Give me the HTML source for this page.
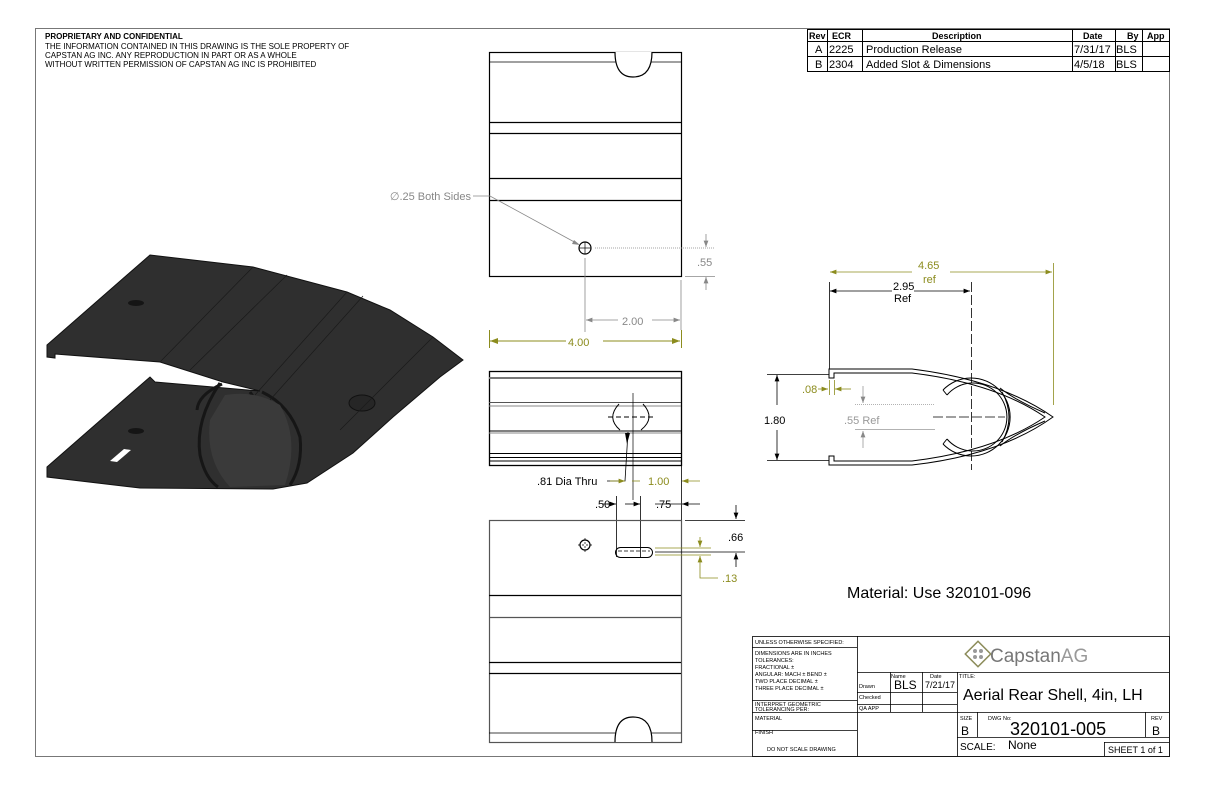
<!DOCTYPE html>
<html><head><meta charset="utf-8"><style>
html,body{margin:0;padding:0;background:#fff}
svg{display:block}
text{font-family:"Liberation Sans",Arial,sans-serif}
</style></head><body>
<svg width="1224" height="792" viewBox="0 0 1224 792" xmlns="http://www.w3.org/2000/svg">
<defs>
<marker id="ab" markerWidth="8" markerHeight="6" refX="8" refY="3" orient="auto"><path d="M0,0 L8,3 L0,6z" fill="#000"/></marker>
<marker id="ag" markerWidth="8" markerHeight="6" refX="8" refY="3" orient="auto"><path d="M0,0 L8,3 L0,6z" fill="#888"/></marker>
<marker id="ao" markerWidth="8" markerHeight="6" refX="8" refY="3" orient="auto"><path d="M0,0 L8,3 L0,6z" fill="#8c8c1e"/></marker>
</defs>
<!-- frame -->
<rect x="35.5" y="28.5" width="1134" height="728" fill="none" stroke="#777" stroke-width="1"/>
<text x="45" y="39" font-size="8" font-weight="bold">PROPRIETARY AND CONFIDENTIAL</text>
<text x="45" y="49" font-size="8">THE INFORMATION CONTAINED IN THIS DRAWING IS THE SOLE PROPERTY OF</text>
<text x="45" y="58" font-size="8">CAPSTAN AG INC. ANY REPRODUCTION IN PART OR AS A WHOLE</text>
<text x="45" y="67" font-size="8">WITHOUT WRITTEN PERMISSION OF CAPSTAN AG INC IS PROHIBITED</text>

<!-- rev table -->
<g stroke="#000" stroke-width="1" fill="none">
<rect x="807.5" y="29.5" width="362" height="42"/>
<line x1="807" y1="41.5" x2="1169" y2="41.5"/><line x1="807" y1="56.5" x2="1169" y2="56.5"/>
<line x1="827.5" y1="29" x2="827.5" y2="71"/><line x1="862.5" y1="29" x2="862.5" y2="71"/>
<line x1="1072.5" y1="29" x2="1072.5" y2="71"/><line x1="1115.5" y1="29" x2="1115.5" y2="71"/>
<line x1="1142.5" y1="29" x2="1142.5" y2="71"/>
</g>
<g font-size="9" font-weight="bold"><text x="809" y="39">Rev</text><text x="832" y="39">ECR</text><text x="932" y="39">Description</text><text x="1083" y="39">Date</text><text x="1127" y="39">By</text><text x="1147" y="39">App</text></g>
<g font-size="11"><text x="815" y="53">A</text><text x="829" y="53">2225</text><text x="866" y="53">Production Release</text><text x="1074" y="53">7/31/17</text><text x="1116" y="53">BLS</text>
<text x="815" y="68">B</text><text x="829" y="68">2304</text><text x="866" y="68">Added Slot &amp; Dimensions</text><text x="1074" y="68">4/5/18</text><text x="1116" y="68">BLS</text></g>

<!-- 3D view -->
<path d="M47,345 L150,255 L253,267 L347,292 L390,310 L433,337 L463,360 L440,377 L393,417 L353,453 L307,483 L273,489 L140,488 L47,477 L47,467 L150,377 L155,382 L260,391 L223,382 L160,362 L55,354 L55,358 L47,357 Z" fill="#2f2f2f" stroke="#111" stroke-width="1"/>
<g fill="none" stroke="#161616" stroke-width="3">
<path d="M222,384 Q198,395 197,410"/>
<path d="M220,383 Q195,420 200,455 Q205,478 218,487"/>
<path d="M262,392 Q290,405 300,437 Q303,465 290,485"/>
<path d="M250,392 Q270,420 265,470"/>
</g>
<path d="M225,395 Q255,390 280,405 Q300,440 285,485 L230,487 Q205,460 210,420 Z" fill="#3a3a3a"/>
<ellipse cx="362" cy="403" rx="13" ry="8" fill="#262626" stroke="#111"/>
<ellipse cx="136" cy="303" rx="8" ry="3" fill="#151515"/>
<ellipse cx="136" cy="431" rx="8" ry="3" fill="#151515"/>
<path d="M110,461 L124,449 L131,450 L117,462Z" fill="#fff"/>
<g stroke="#1a1a1a" stroke-width="0.7"><line x1="253" y1="267" x2="160" y2="362"/><line x1="287" y1="275" x2="190" y2="370"/><line x1="347" y1="292" x2="255" y2="395"/><line x1="363" y1="296" x2="270" y2="400"/><line x1="433" y1="337" x2="340" y2="430"/></g>

<!-- top view -->
<g stroke="#000" fill="none" stroke-width="1.2">
<rect x="489.5" y="52.5" width="192" height="224"/>
<line x1="489" y1="62" x2="681" y2="62" stroke-width="0.8"/>
<line x1="489" y1="122.5" x2="681" y2="122.5"/><line x1="489" y1="133.5" x2="681" y2="133.5"/>
<line x1="489" y1="178.5" x2="681" y2="178.5"/><line x1="489" y1="200.5" x2="681" y2="200.5"/>
<path d="M615,52 Q615,77 633,77 Q652,77 652,52" fill="#fff"/>
<circle cx="585" cy="248" r="6"/>
</g>
<g stroke="#000" stroke-width="0.7"><line x1="579" y1="248" x2="591" y2="248"/><line x1="585" y1="242" x2="585" y2="254"/></g>
<g stroke="#888" stroke-width="0.8" fill="none">
<line x1="595" y1="248" x2="715" y2="248" stroke-dasharray="1,1"/>
<line x1="685" y1="276.5" x2="715" y2="276.5"/>
<line x1="706" y1="234" x2="706" y2="247" marker-end="url(#ag)"/>
<line x1="706" y1="290" x2="706" y2="277" marker-end="url(#ag)"/>
<line x1="585" y1="258" x2="585" y2="332"/>
<line x1="681" y1="280" x2="681" y2="330"/>
<line x1="618" y1="320" x2="586" y2="320" marker-end="url(#ag)"/>
<line x1="652" y1="320" x2="680" y2="320" marker-end="url(#ag)"/>
<polyline points="473,196 490,196 578,244"/>
</g>
<path d="M574,240 L580,245 L572,244Z" fill="#888"/>
<text x="697" y="266" font-size="11" fill="#888">.55</text>
<text x="622" y="325" font-size="11" fill="#888">2.00</text>
<text x="471" y="200" font-size="11" fill="#888" text-anchor="end">∅.25 Both Sides</text>
<g stroke="#8c8c1e" stroke-width="1" fill="none">
<line x1="489.5" y1="330" x2="489.5" y2="348"/><line x1="681.5" y1="330" x2="681.5" y2="348"/>
<line x1="566" y1="341" x2="490" y2="341" marker-end="url(#ao)"/>
<line x1="603" y1="341" x2="680" y2="341" marker-end="url(#ao)"/>
</g>
<text x="568" y="346" font-size="11" fill="#8c8c1e">4.00</text>

<!-- middle view -->
<g stroke="#000" fill="none" stroke-width="1">
<rect x="489.5" y="371.5" width="192" height="94" stroke-width="1.3"/>
<line x1="489" y1="378" x2="681" y2="378" stroke="#777" stroke-width="2"/>
<line x1="489" y1="402.5" x2="681" y2="402.5" stroke="#555"/><line x1="489" y1="406" x2="681" y2="406" stroke="#888"/>
<line x1="489" y1="431" x2="681" y2="431"/><line x1="489" y1="433" x2="681" y2="433" stroke="#888"/>
<line x1="489" y1="453.5" x2="681" y2="453.5"/><line x1="489" y1="457.5" x2="681" y2="457.5"/><line x1="489" y1="461" x2="681" y2="461"/>
<path d="M619,404 Q606,418 620,430"/><path d="M643,404 Q656,418 641,430"/>
<line x1="608" y1="417" x2="656" y2="417" stroke-dasharray="5,3"/>
<line x1="633" y1="393" x2="633" y2="500" stroke-width="0.7"/>
</g>
<g stroke="#000" stroke-width="0.8" fill="none">
<polyline points="607,481 625,481 628,432"/>
<line x1="655" y1="504" x2="681" y2="504" stroke="#000"/>
<line x1="616.5" y1="496" x2="616.5" y2="557"/><line x1="640.5" y1="496" x2="640.5" y2="557"/>
<line x1="612" y1="504" x2="603" y2="504"/>
<line x1="625" y1="504" x2="640" y2="504" marker-end="url(#ab)"/>
<line x1="607" y1="504" x2="616" y2="504" marker-end="url(#ab)"/>
<line x1="700" y1="504" x2="682" y2="504" marker-end="url(#ab)"/>
<line x1="681.5" y1="466" x2="681.5" y2="520"/>
</g>
<path d="M625,433 L627,444 L630,433Z" fill="#000"/>
<g stroke="#8c8c1e" stroke-width="0.8" fill="none">
<line x1="610" y1="481" x2="625" y2="481" marker-end="url(#ao)"/>
<line x1="700" y1="481" x2="682" y2="481" marker-end="url(#ao)"/>
<line x1="632" y1="481" x2="640" y2="481"/>
</g>
<text x="537" y="485" font-size="11">.81 Dia Thru</text>
<text x="648" y="485" font-size="11" fill="#8c8c1e">1.00</text>
<text x="595" y="508" font-size="11">.50</text>
<text x="656" y="508" font-size="11">.75</text>

<!-- bottom view -->
<g stroke="#000" fill="none" stroke-width="1.2">
<rect x="489.5" y="520.5" width="192" height="222" stroke="#555"/>
<line x1="489" y1="595.5" x2="681" y2="595.5"/><line x1="489" y1="617.5" x2="681" y2="617.5" stroke="#555"/>
<line x1="489" y1="662.5" x2="681" y2="662.5"/><line x1="489" y1="673.5" x2="681" y2="673.5"/>
<line x1="489" y1="733" x2="681" y2="733" stroke-width="0.8"/>
<path d="M615,742 Q615,717 633,717 Q652,717 652,742" fill="#fff"/>
<circle cx="585" cy="545" r="5"/>
<rect x="615.5" y="547.5" width="37" height="10" rx="5" stroke-width="1"/>
</g>
<line x1="618" y1="551" x2="650" y2="551" stroke="#000" stroke-width="0.7" stroke-dasharray="4,2"/>
<g stroke="#000" stroke-width="0.7"><line x1="578" y1="545" x2="592" y2="545" stroke-dasharray="2,2"/><line x1="585" y1="538" x2="585" y2="552" stroke-dasharray="2,2"/></g>
<g stroke="#000" stroke-width="0.8" fill="none">
<line x1="685" y1="520.5" x2="745" y2="520.5"/><line x1="655" y1="552" x2="745" y2="552"/>
<line x1="736" y1="505" x2="736" y2="519" marker-end="url(#ab)"/>
<line x1="736" y1="567" x2="736" y2="553" marker-end="url(#ab)"/>
</g>
<text x="728" y="541" font-size="11">.66</text>
<g stroke="#8c8c1e" stroke-width="0.8" fill="none">
<line x1="655" y1="548" x2="711" y2="548"/><line x1="655" y1="555" x2="711" y2="555"/>
<line x1="700" y1="537" x2="700" y2="547" marker-end="url(#ao)"/>
<line x1="700" y1="566" x2="700" y2="556" marker-end="url(#ao)"/>
<polyline points="700,566 700,578 718,578"/>
</g>
<text x="722" y="582" font-size="11" fill="#8c8c1e">.13</text>

<!-- profile view -->
<g stroke="#000" fill="none" stroke-width="1">
<path d="M829,378 L829,369 L912,369 Q1000,380 1053,417 Q1000,455 912,465 L829,465 L829,456 L834,456 L834,461 L912,461 Q995,451 1045,417 Q995,383 912,373 L834,373 L834,378 Z"/>
<path d="M943,390 A39,39 0 1 1 943,444"/>
<path d="M947,395 A34,34 0 1 1 947,439"/>
<line x1="943" y1="390" x2="947" y2="395"/><line x1="943" y1="444" x2="947" y2="439"/>
<path d="M1000,388 Q1015,400 1045,413"/><path d="M1000,446 Q1015,434 1045,421"/>
<path d="M1002,392 Q1016,417 1002,442"/>
</g>
<g stroke="#000" stroke-width="0.8" fill="none">
<line x1="829.5" y1="282" x2="829.5" y2="369"/>
<line x1="971.5" y1="282" x2="971.5" y2="470" stroke-dasharray="10,3"/>
<line x1="933" y1="417" x2="1005" y2="417" stroke-dasharray="10,3"/>
<line x1="892" y1="291" x2="830" y2="291" marker-end="url(#ab)"/>
<line x1="914" y1="291" x2="970" y2="291" marker-end="url(#ab)"/>
<line x1="767" y1="374.5" x2="829" y2="374.5"/><line x1="767" y1="460.5" x2="829" y2="460.5"/>
<line x1="777" y1="405" x2="777" y2="375" marker-end="url(#ab)"/>
<line x1="777" y1="430" x2="777" y2="460" marker-end="url(#ab)"/>
</g>
<text x="893" y="290" font-size="11">2.95</text><text x="894" y="302" font-size="11">Ref</text>
<text x="764" y="424" font-size="11">1.80</text>
<g stroke="#8c8c1e" stroke-width="0.8" fill="none">
<line x1="1053.5" y1="263" x2="1053.5" y2="405"/>
<line x1="912" y1="272" x2="830" y2="272" marker-end="url(#ao)"/>
<line x1="950" y1="272" x2="1052" y2="272" marker-end="url(#ao)"/>
<line x1="829.5" y1="380" x2="829.5" y2="395"/><line x1="834.5" y1="380" x2="834.5" y2="395"/>
<line x1="818" y1="389" x2="828" y2="389" marker-end="url(#ao)"/>
<line x1="851" y1="389" x2="835" y2="389" marker-end="url(#ao)"/>
</g>
<text x="918" y="269" font-size="11" fill="#8c8c1e">4.65</text><text x="923" y="283" font-size="11" fill="#8c8c1e">ref</text>
<text x="802" y="393" font-size="11" fill="#8c8c1e">.08</text>
<g stroke="#999" stroke-width="0.8" fill="none">
<line x1="855" y1="404.5" x2="935" y2="404.5" stroke-dasharray="1,1"/><line x1="855" y1="429.5" x2="935" y2="429.5"/>
<line x1="863" y1="386" x2="863" y2="403" marker-end="url(#ag)"/>
<line x1="863" y1="448" x2="863" y2="431" marker-end="url(#ag)"/>
</g>
<text x="844" y="424" font-size="11" fill="#999">.55 Ref</text>

<text x="847" y="598" font-size="16">Material: Use 320101-096</text>

<!-- title block -->
<g stroke="#000" stroke-width="0.8" fill="none">
<rect x="752.5" y="636.5" width="417" height="120"/>
<line x1="857.5" y1="636" x2="857.5" y2="756"/>
<line x1="752" y1="647.5" x2="857" y2="647.5"/>
<line x1="752" y1="700.5" x2="857" y2="700.5"/>
<line x1="752" y1="712.5" x2="857" y2="712.5"/>
<line x1="752" y1="730.5" x2="857" y2="730.5"/>
<line x1="857" y1="672.5" x2="1169" y2="672.5"/>
<line x1="857" y1="692.5" x2="957" y2="692.5"/>
<line x1="857" y1="704.5" x2="957" y2="704.5"/>
<line x1="857" y1="712.5" x2="1169" y2="712.5"/>
<line x1="890.5" y1="672" x2="890.5" y2="712"/>
<line x1="922.5" y1="672" x2="922.5" y2="712"/>
<line x1="957.5" y1="672" x2="957.5" y2="756"/>
<line x1="977.5" y1="712" x2="977.5" y2="737"/>
<line x1="1145.5" y1="712" x2="1145.5" y2="737"/>
<line x1="957" y1="737.5" x2="1169" y2="737.5"/>
<line x1="1104.5" y1="742" x2="1104.5" y2="756"/>
<line x1="1104" y1="742.5" x2="1169" y2="742.5"/>
</g>
<g font-size="5.5">
<text x="755" y="644">UNLESS OTHERWISE SPECIFIED:</text>
<text x="755" y="655">DIMENSIONS ARE IN INCHES</text>
<text x="755" y="662">TOLERANCES:</text>
<text x="755" y="669">FRACTIONAL ±</text>
<text x="755" y="676">ANGULAR: MACH ±   BEND ±</text>
<text x="755" y="683">TWO PLACE DECIMAL   ±</text>
<text x="755" y="690">THREE PLACE DECIMAL  ±</text>
<text x="755" y="706">INTERPRET GEOMETRIC</text>
<text x="755" y="711">TOLERANCING PER:</text>
<text x="755" y="720">MATERIAL</text>
<text x="755" y="734">FINISH</text>
<text x="767" y="751">DO NOT SCALE DRAWING</text>
<text x="891" y="678">Name</text><text x="930" y="678">Date</text><text x="959" y="678">TITLE:</text>
<text x="859" y="688">Drawn</text><text x="859" y="699">Checked</text><text x="859" y="710">QA APP</text>
<text x="960" y="720">SIZE</text><text x="988" y="720">DWG No:</text><text x="1151" y="720">REV</text>
</g>
<text x="894" y="689" font-size="12">BLS</text><text x="925" y="688" font-size="9">7/21/17</text>
<text x="963" y="700" font-size="16">Aerial Rear Shell, 4in, LH</text>
<text x="961" y="735" font-size="12">B</text>
<text x="1010" y="735" font-size="18">320101-005</text>
<text x="1152" y="735" font-size="12">B</text>
<text x="960" y="750" font-size="10">SCALE:</text><text x="1008" y="749" font-size="12">None</text>
<text x="1108" y="753" font-size="9">SHEET 1 of 1</text>
<g transform="translate(978,654)">
<rect x="-9" y="-9" width="18" height="18" transform="rotate(45)" fill="none" stroke="#8c8c5a" stroke-width="1.5"/>
<circle cx="-3" cy="-3" r="2" fill="#999"/><circle cx="3" cy="-3" r="2" fill="#999"/><circle cx="-3" cy="3" r="2" fill="#999"/><circle cx="3" cy="3" r="2" fill="#999"/>
</g>
<text x="990" y="662" font-size="19" fill="#777">Capstan<tspan fill="#999">AG</tspan></text>
</svg>
</body></html>
